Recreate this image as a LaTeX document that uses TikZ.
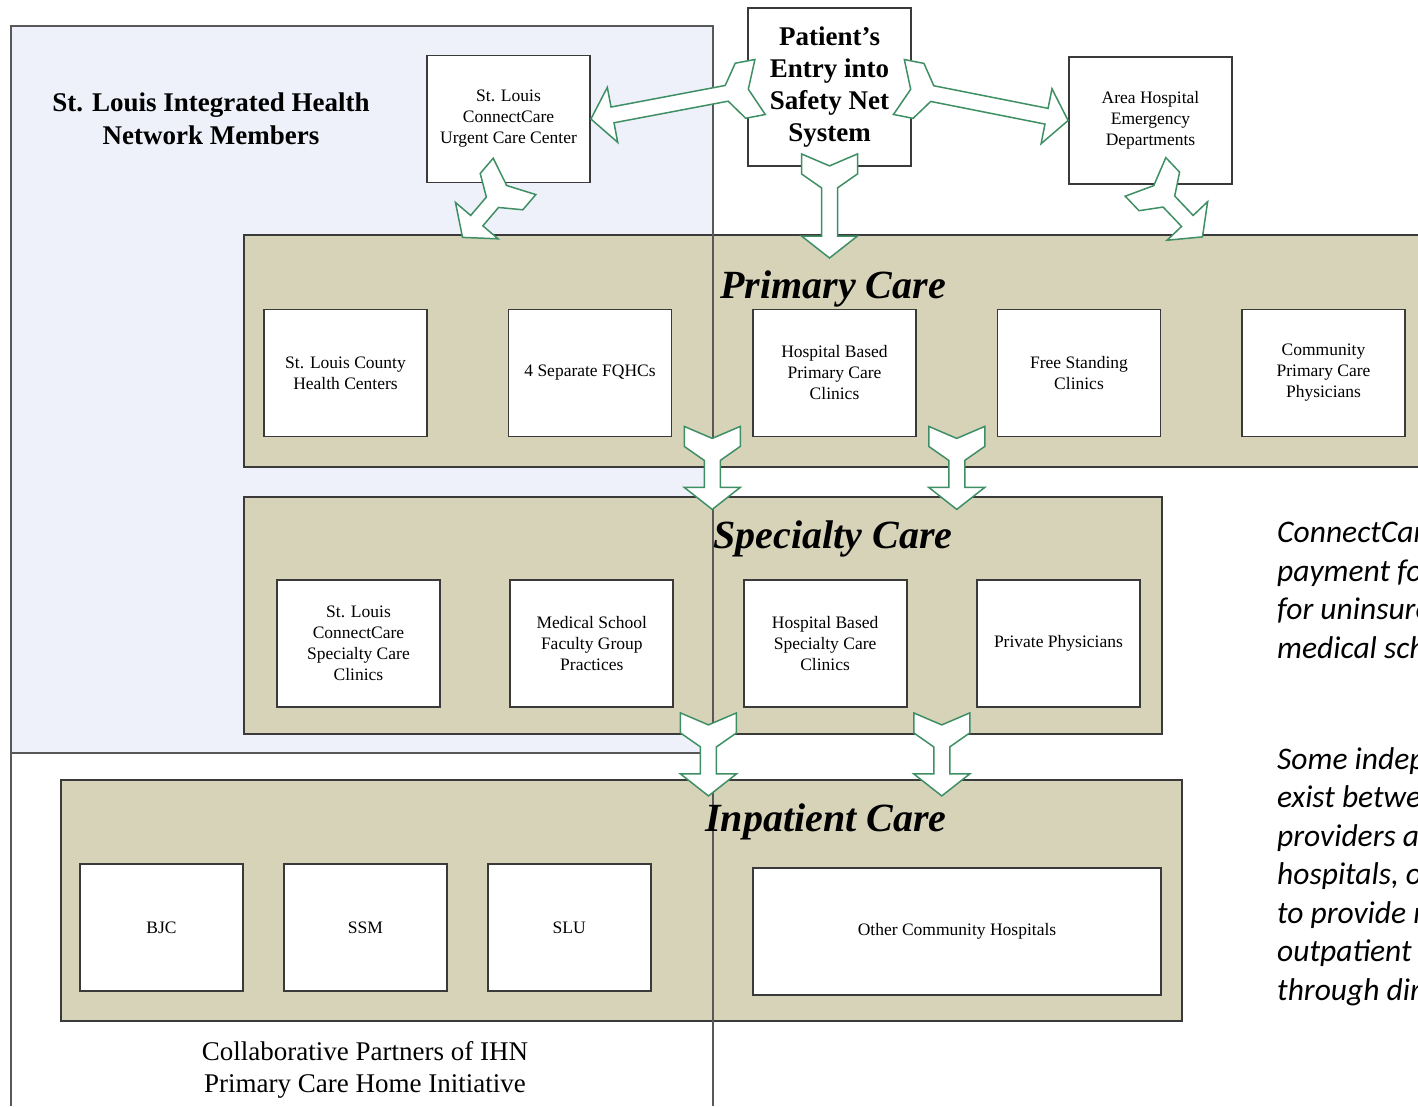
\documentclass[tikz,border=0pt]{standalone}
\usepackage{fontspec}
\setmainfont{Liberation Serif}
\newfontfamily\notefont{Carlito}
\usetikzlibrary{positioning}
\usetikzlibrary{calc}

\definecolor{ihnblue}{HTML}{EEF1F9}
\definecolor{bandtan}{HTML}{D6D3B9}
\definecolor{arrowgreen}{HTML}{3F8F65}
\definecolor{edgegray}{HTML}{3A3A3A}

\tikzset{x=1pt, y=-1pt, % one unit is one pixel, y grows downwards
every node/.style={inner sep=0pt},
unit/.style={ % provider boxes
draw=edgegray, line width=1.8pt, fill=white,
minimum width=163pt, minimum height=127pt,
align=center, font=\fontsize{17.5}{21}\selectfont},
band/.style={ % one level of care
draw=edgegray, line width=1.8pt, fill=bandtan, anchor=north west},
bandtitle/.style={font=\fontsize{40}{44}\selectfont\bfseries\itshape, anchor=base},
region/.style={draw=edgegray!85, line width=1.6pt},
hollow/.style={draw=arrowgreen, line width=1.5pt, fill=white, line join=miter},
note/.style={font=\notefont\itshape\fontsize{31.5}{38.5}\selectfont, align=left, anchor=north west}}

% hollow block arrow with a notched tail, from #1 (tail) to #2 (tip)
\newcommand\hollowarrow[2]{%
\path let \p1=#1, \p2=#2, \n1={atan2(\y2-\y1,\x2-\x1)}, \n2={veclen(\x2-\x1,\y2-\y1)} in
\pgfextra{\xdef\arrang{\n1}\xdef\arrlen{\n2}};
\begin{scope}[shift={#1}, rotate=\arrang]
\draw[hollow] (0pt,28pt) -- (12pt,0pt) -- (0pt,-28pt) -- (20pt,-28pt) -- (34pt,-8pt)
-- (\arrlen-22pt,-8pt) -- (\arrlen-22pt,-28pt) -- (\arrlen,0pt)
-- (\arrlen-22pt,28pt) -- (\arrlen-22pt,8pt) -- (34pt,8pt) -- (20pt,28pt) -- cycle;
\end{scope}}

\begin{document}
\begin{tikzpicture}
\useasboundingbox (0,0) rectangle (1418,1106);
\clip (0,0) rectangle (1418,1106);

% network members area
\fill[ihnblue] (11,26) rectangle (713,753);

% levels of care
\node[band, minimum width=1220pt, minimum height=232pt] (pc) at (243,234) {};
\node[band, minimum width=918pt, minimum height=237pt] (sc) at (243,496) {};
\node[band, minimum width=1121pt, minimum height=241pt] (ic) at (60,779) {};

\draw[region] (11,1106) -- (11,26) -- (713,26) -- (713,1106);
\draw[region] (11,753) -- (713,753);

\node[bandtitle] (pct) at (833,298) {Primary Care};
\node[bandtitle] (sct) at (833,548) {Specialty Care};
\node[bandtitle] (ict) at (826,831) {Inpatient Care};

\node[font=\fontsize{27}{33}\selectfont\bfseries, align=center] (ihn) at (211,119) {St. Louis Integrated Health\\Network Members};
\node[font=\fontsize{27}{32}\selectfont, align=center] (collab) at (365,1070) {Collaborative Partners of IHN\\Primary Care Home Initiative};

% entry points
\node[unit, font=\fontsize{27}{32}\selectfont\bfseries, minimum height=158pt] (ent) at (829.5,87) {Patient’s\\Entry into\\Safety Net\\System};
\node[unit] (urg) at (508.5,119) {St. Louis\\ConnectCare\\Urgent Care Center};
\node[unit] (area) at (1150.5,120.5) {Area Hospital\\Emergency\\Departments};

% primary care
\node[unit] (pc1) at (345.5,373) {St. Louis County\\Health Centers};
\node[unit, right=79.7pt of pc1] (pc2) {4 Separate FQHCs};
\node[unit, right=79.7pt of pc2] (pc3) {Hospital Based\\Primary Care\\Clinics};
\node[unit, right=79.7pt of pc3] (pc4) {Free Standing\\Clinics};
\node[unit, right=79.7pt of pc4] (pc5) {Community\\Primary Care\\Physicians};

% specialty care
\node[unit] (sc1) at (358.5,643.5) {St. Louis\\ConnectCare\\Specialty Care\\Clinics};
\node[unit, right=68.5pt of sc1] (sc2) {Medical School\\Faculty Group\\Practices};
\node[unit, right=68.5pt of sc2] (sc3) {Hospital Based\\Specialty Care\\Clinics};
\node[unit, right=68.5pt of sc3] (sc4) {Private Physicians};

% inpatient care
\node[unit] (ic1) at (161.5,927.5) {BJC};
\node[unit, right=39pt of ic1] (ic2) {SSM};
\node[unit, right=39pt of ic2] (ic3) {SLU};
\node[unit, minimum width=408pt] (ic4) at (957,931.5) {Other Community Hospitals};

% side notes
\node[note] (note1) at (1277,522) {ConnectCare\\payment for\\for uninsured\\medical school};
\node[note] (note2) at (1277,747) {Some independent\\exist between\\providers and\\hospitals, or\\to provide more\\outpatient\\through direct};

% flows
\hollowarrow{([xshift=13pt]ent.west)}{(urg.east)}
\hollowarrow{([xshift=-13pt]ent.east)}{(area.west)}
\hollowarrow{([yshift=13pt]ent.south)}{($(ent.south |- pc.north)+(0,24)$)}
\hollowarrow{($(urg.south)+(6,-7)$)}{($(urg.south)+(-46,54)$)}
\hollowarrow{($(area.south)+(-5,-8)$)}{($(area.south)+(52,52)$)}

\hollowarrow{($(pc2.south east)!.5!(pc3.south west)+(0,-11)$)}{($(pc2.south east)!.5!(pc3.south west)+(0,72)$)}
\hollowarrow{($(pc3.south east)!.5!(pc4.south west)+(0,-11)$)}{($(pc3.south east)!.5!(pc4.south west)+(0,72)$)}
\hollowarrow{($(sc2.south east)!.5!(sc3.south west)+(0,5)$)}{($(sc2.south east)!.5!(sc3.south west)+(0,88)$)}
\hollowarrow{($(sc3.south east)!.5!(sc4.south west)+(0,5)$)}{($(sc3.south east)!.5!(sc4.south west)+(0,88)$)}
\end{tikzpicture}
\end{document}
